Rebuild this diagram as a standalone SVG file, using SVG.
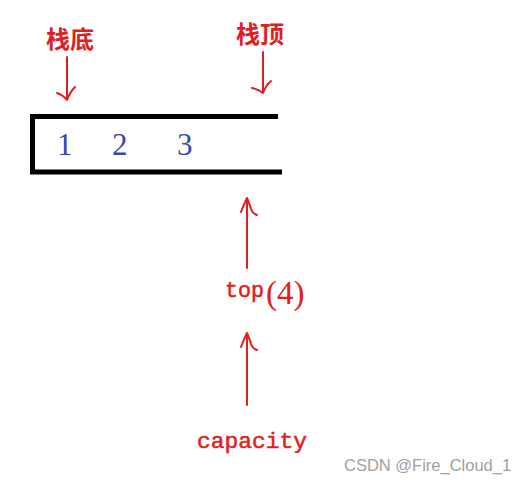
<svg xmlns="http://www.w3.org/2000/svg" width="525" height="483" viewBox="0 0 525 483">
<style>
.lbl{font-family:"Noto Sans CJK SC","Liberation Sans",sans-serif;font-weight:bold;font-size:24px;fill:#e02020}
.num{font-family:"Liberation Serif",serif;font-size:31px;fill:#3a45b8}
.code{font-family:"Liberation Mono",monospace;font-size:22px;fill:#e02020;stroke:#e02020;stroke-width:0.5}
.ser{font-family:"Liberation Serif",serif;font-size:33px;fill:#e02020}
.arr{stroke:#e02020;stroke-width:2;fill:none;stroke-linecap:round;stroke-linejoin:round}
.box{stroke:#000;stroke-width:5;fill:none}
.wm{font-family:"Liberation Sans",sans-serif;font-size:16.5px;fill:#a0a0a0}
</style>
<rect width="525" height="483" fill="#fff"/>
<g id="stack">
<path class="box" d="M278 116.5 H32.5 V172 H282"/>
<text class="num" x="57" y="155">1</text>
<text class="num" x="112" y="155">2</text>
<text class="num" x="177" y="155">3</text>
</g>
<g id="bottom-label"><text class="lbl" x="46" y="48">栈底</text></g>
<g id="top-label"><text class="lbl" x="236" y="43">栈顶</text></g>
<g id="top-var"><text class="code" x="225" y="297" textLength="39" lengthAdjust="spacingAndGlyphs">top</text><text class="ser" x="266" y="304">(4)</text></g>
<g id="capacity"><text class="code" x="197" y="448" textLength="110" lengthAdjust="spacingAndGlyphs">capacity</text></g>
<g id="connectors">
<path class="arr" d="M67 57 V100 M57 93 Q63 95 67 100 Q70 92 75 87"/>
<path class="arr" d="M263 52 V93 M252 88 Q258 89 263 93 Q266 85 271 81"/>
<path class="arr" d="M247 268 V198 M241 212 Q244 204 247 198 Q250 205 251 209 Q253 214 257 215"/>
<path class="arr" d="M247 405 V333 M241 347 Q244 339 247 333 Q250 340 251 344 Q253 349 257 350"/>
</g>
<text class="wm" x="344" y="471">CSDN @Fire_Cloud_1</text>
</svg>
